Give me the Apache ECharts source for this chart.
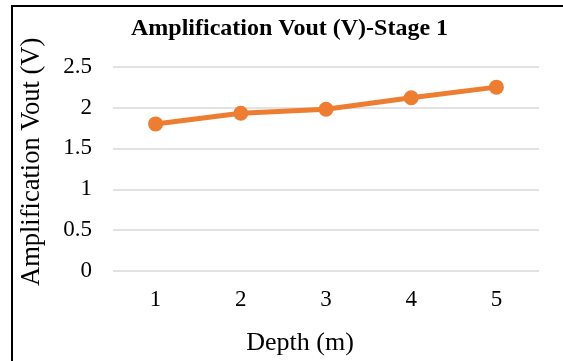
<!DOCTYPE html>
<html>
<head>
<meta charset="utf-8">
<script src="https://cdn.jsdelivr.net/npm/echarts@6/dist/echarts.min.js"></script>
<style>
html,body{margin:0;padding:0;background:#fff;}
#chart{width:563px;height:361px;}
</style>
</head>
<body>
<div id="chart"></div>
<script>
const categories = ['1', '2', '3', '4', '5'];
const vout = [1.80, 1.93, 1.98, 2.12, 2.25];
const titleText = 'Amplification Vout (V)-Stage 1';
const xName = 'Depth (m)';
const yName = 'Amplification Vout (V)';

const font = '"Liberation Serif", "Times New Roman", serif';
const chart = echarts.init(document.getElementById('chart'), null, {renderer: 'canvas'});
chart.setOption({
  animation: false,
  backgroundColor: '#ffffff',
  title: {
    text: titleText,
    left: 126,
    top: 12,
    textStyle: {fontFamily: font, fontSize: 24, fontWeight: 'bold', color: '#000'}
  },
  grid: {left: 113, right: 24, top: 66.7, bottom: 87.7, containLabel: false},
  xAxis: {
    type: 'category',
    data: categories,
    boundaryGap: true,
    name: xName,
    nameLocation: 'middle',
    nameGap: 59,
    nameTextStyle: {fontFamily: font, fontSize: 26, color: '#000', padding: [0, 52, 0, 0]},
    axisLine: {show: false},
    axisTick: {show: false},
    axisLabel: {fontFamily: font, fontSize: 23, color: '#000', margin: 17}
  },
  yAxis: {
    type: 'value',
    min: 0,
    max: 2.5,
    interval: 0.5,
    name: yName,
    nameLocation: 'middle',
    nameGap: 67,
    nameTextStyle: {fontFamily: font, fontSize: 26.5, color: '#000', padding: [0, 0, 0, 14]},
    axisLine: {show: false},
    axisTick: {show: false},
    axisLabel: {fontFamily: font, fontSize: 23, color: '#000', margin: 21},
    splitLine: {lineStyle: {color: '#d9d9d9', width: 1.5}}
  },
  series: [{
    type: 'line',
    data: vout,
    symbol: 'circle',
    symbolSize: 15,
    lineStyle: {color: '#ED7D31', width: 5},
    itemStyle: {color: '#ED7D31'}
  }],
  graphic: [{
    type: 'rect',
    shape: {x: 12, y: 6, width: 620, height: 420},
    style: {fill: 'none', stroke: '#000', lineWidth: 2},
    silent: true
  }]
});
</script>
</body>
</html>
